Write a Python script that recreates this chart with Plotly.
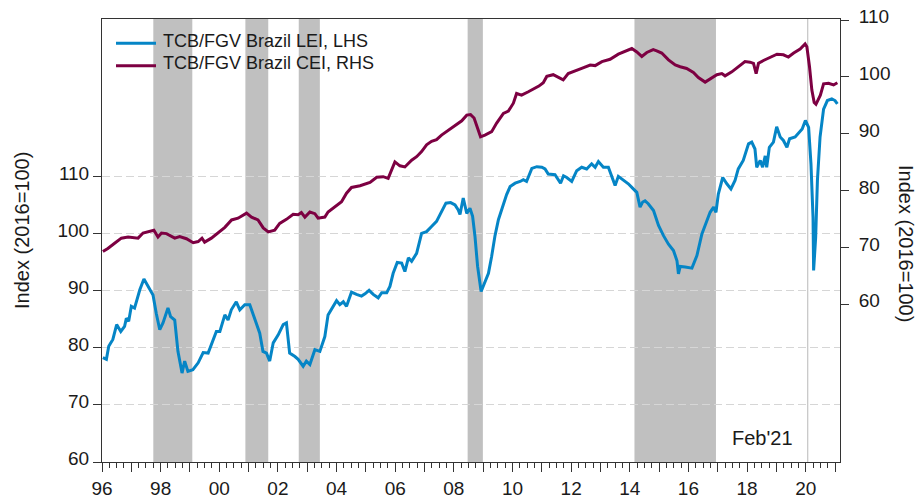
import plotly.graph_objects as go

# ---------------- data (decimal years) ----------------
lei_t = [1996.03, 1996.15, 1996.23, 1996.37, 1996.50, 1996.64, 1996.77, 1996.83, 1996.91, 1997.00,
         1997.11, 1997.29, 1997.43, 1997.63, 1997.74, 1997.85, 1997.97, 1998.08, 1998.25, 1998.34,
         1998.48, 1998.59, 1998.73, 1998.82, 1998.93, 1999.10, 1999.28, 1999.45, 1999.62, 1999.90,
         2000.02, 2000.19, 2000.30, 2000.41, 2000.58, 2000.70, 2000.87, 2001.04, 2001.21, 2001.38,
         2001.49, 2001.61, 2001.72, 2001.84, 2002.01, 2002.18, 2002.29, 2002.40, 2002.58, 2002.69,
         2002.86, 2002.97, 2003.09, 2003.26, 2003.43, 2003.60, 2003.71, 2003.89, 2004.00, 2004.11,
         2004.23, 2004.34, 2004.51, 2004.68, 2004.85, 2004.97, 2005.11, 2005.25, 2005.42, 2005.54,
         2005.71, 2005.82, 2005.93, 2006.07, 2006.22, 2006.33, 2006.45, 2006.56, 2006.73, 2006.90,
         2007.07, 2007.24, 2007.41, 2007.55, 2007.73, 2007.89, 2008.04, 2008.15, 2008.21, 2008.32,
         2008.44, 2008.55, 2008.64, 2008.72, 2008.81, 2008.93, 2009.06, 2009.18, 2009.29, 2009.40,
         2009.52, 2009.67, 2009.80, 2009.92, 2010.09, 2010.26, 2010.37, 2010.48, 2010.66, 2010.83,
         2011.00, 2011.11, 2011.22, 2011.45, 2011.64, 2011.74, 2011.85, 2012.02, 2012.19, 2012.36,
         2012.53, 2012.70, 2012.82, 2012.93, 2013.10, 2013.27, 2013.39, 2013.50, 2013.61, 2013.78,
         2013.95, 2014.12, 2014.24, 2014.35, 2014.44, 2014.52, 2014.63, 2014.81, 2014.98, 2015.15,
         2015.32, 2015.49, 2015.61, 2015.66, 2015.72, 2015.89, 2016.12, 2016.29, 2016.46, 2016.63,
         2016.74, 2016.86, 2016.94, 2017.02, 2017.17, 2017.31, 2017.45, 2017.59, 2017.70, 2017.87,
         2018.05, 2018.16, 2018.27, 2018.33, 2018.45, 2018.53, 2018.62, 2018.67, 2018.76, 2018.90,
         2019.01, 2019.13, 2019.24, 2019.36, 2019.45, 2019.64, 2019.76, 2019.88, 2019.99, 2020.10,
         2020.18, 2020.25, 2020.27, 2020.34, 2020.40, 2020.49, 2020.61, 2020.74, 2020.89, 2021.00,
         2021.08]
lei_v = [78.3, 78.0, 80.3, 81.5, 84.1, 82.9, 83.8, 85.2, 84.7, 87.3,
         87.0, 90.2, 92.1, 90.2, 89.3, 86.1, 83.2, 84.4, 87.0, 85.5,
         84.9, 79.4, 75.6, 77.7, 75.9, 76.2, 77.4, 79.2, 79.1, 82.9,
         82.9, 85.8, 84.9, 86.7, 88.1, 86.7, 87.6, 87.6, 85.2, 82.6,
         79.4, 79.1, 77.7, 80.9, 82.3, 84.1, 84.4, 79.1, 78.5, 78.0,
         76.8, 77.7, 77.1, 79.7, 79.4, 82.0, 85.8, 87.5, 88.3, 87.6,
         88.1, 87.3, 89.8, 89.4, 89.1, 89.5, 90.1, 89.4, 88.8, 89.7,
         89.7, 90.8, 93.1, 95.0, 94.9, 93.4, 95.8, 95.2, 96.6, 100.1,
         100.4, 101.3, 102.2, 103.6, 105.4, 105.5, 105.1, 104.2, 103.4, 106.3,
         103.6, 104.5, 103.1, 99.6, 94.3, 89.9, 91.4, 93.1, 96.1, 99.6,
         102.5, 105.1, 106.9, 108.3, 108.9, 109.2, 109.5, 109.2, 111.5, 111.8,
         111.7, 111.4, 110.5, 110.4, 108.9, 110.2, 109.9, 109.2, 111.1, 111.7,
         111.4, 112.3, 111.7, 112.7, 111.7, 111.7, 110.2, 108.5, 110.1, 109.4,
         108.8, 107.9, 107.3, 104.7, 105.6, 105.8, 105.3, 104.1, 101.5, 99.7,
         98.2, 97.1, 95.3, 93.0, 94.3, 94.2, 94.0, 96.2, 100.0, 102.3,
         103.8, 104.7, 103.8, 107.0, 109.9, 108.8, 107.9, 109.4, 111.4, 112.9,
         115.8, 116.1, 114.9, 111.7, 112.9, 111.7, 113.7, 111.7, 115.2, 116.1,
         118.8, 117.0, 116.4, 115.2, 116.7, 117.0, 117.8, 118.4, 119.9, 118.7,
         112.3, 102.9, 93.6, 99.4, 109.4, 117.0, 121.9, 123.4, 123.7, 123.4,
         122.8]

cei_t = [1996.03, 1996.20, 1996.43, 1996.66, 1996.89, 1997.23, 1997.40, 1997.68, 1997.77, 1997.91,
         1998.03, 1998.20, 1998.48, 1998.65, 1998.88, 1999.11, 1999.28, 1999.41, 1999.50, 1999.73,
         1999.96, 2000.19, 2000.42, 2000.64, 2000.93, 2001.10, 2001.32, 2001.50, 2001.67, 2001.89,
         2002.06, 2002.29, 2002.52, 2002.69, 2002.80, 2002.92, 2003.09, 2003.26, 2003.37, 2003.60,
         2003.71, 2003.89, 2004.17, 2004.34, 2004.51, 2004.80, 2005.14, 2005.37, 2005.59, 2005.76,
         2005.88, 2005.99, 2006.16, 2006.33, 2006.56, 2006.73, 2006.90, 2007.07, 2007.24, 2007.41,
         2007.58, 2007.75, 2007.92, 2008.10, 2008.27, 2008.44, 2008.57, 2008.69, 2008.80, 2008.91,
         2009.06, 2009.29, 2009.46, 2009.69, 2009.86, 2010.03, 2010.14, 2010.31, 2010.54, 2010.77,
         2010.90, 2011.05, 2011.17, 2011.39, 2011.56, 2011.73, 2011.90, 2012.08, 2012.36, 2012.65,
         2012.82, 2013.05, 2013.33, 2013.61, 2013.90, 2014.07, 2014.24, 2014.41, 2014.58, 2014.80,
         2014.92, 2015.09, 2015.32, 2015.55, 2015.72, 2015.94, 2016.17, 2016.34, 2016.57, 2016.74,
         2016.97, 2017.14, 2017.25, 2017.48, 2017.71, 2017.93, 2018.10, 2018.22, 2018.31, 2018.39,
         2018.56, 2018.79, 2019.02, 2019.24, 2019.41, 2019.59, 2019.81, 2019.98, 2020.04, 2020.13,
         2020.21, 2020.29, 2020.35, 2020.50, 2020.61, 2020.78, 2020.95, 2021.08]
cei_v = [69.35, 69.9, 70.8, 71.7, 71.9, 71.7, 72.6, 73.0, 73.1, 71.9,
         72.6, 72.5, 71.7, 72.0, 71.6, 70.9, 71.1, 71.7, 71.0, 71.7,
         72.7, 73.6, 74.9, 75.2, 76.1, 75.4, 74.9, 73.5, 72.8, 73.1,
         74.3, 75.0, 75.9, 75.8, 76.2, 75.4, 76.3, 76.0, 75.2, 75.4,
         76.3, 77.0, 78.1, 79.6, 80.6, 80.9, 81.5, 82.4, 82.5, 82.2,
         83.7, 85.1, 84.4, 84.2, 85.4, 86.0, 86.9, 88.1, 88.7, 89.0,
         89.8, 90.4, 91.1, 91.6, 92.3, 93.3, 93.4, 92.8, 91.3, 89.5,
         89.8, 90.4, 91.9, 93.6, 94.0, 95.4, 97.1, 96.8, 97.4, 98.0,
         98.4, 99.0, 100.1, 100.4, 99.9, 99.5, 100.6, 100.9, 101.5, 102.1,
         102.0, 102.7, 103.1, 104.0, 104.6, 105.0, 104.4, 103.6, 104.3, 104.8,
         104.6, 104.2, 103.0, 102.1, 101.8, 101.5, 100.8, 99.9, 99.1, 99.6,
         100.4, 100.6, 100.2, 100.9, 101.8, 102.7, 102.6, 102.4, 100.6, 102.4,
         102.9, 103.5, 104.0, 103.9, 103.5, 104.2, 104.9, 105.8, 105.3, 101.8,
         97.7, 95.5, 95.2, 96.8, 98.8, 98.9, 98.6, 99.0]

# recession periods (start, end) in decimal years
rec_start = [1997.75, 2000.89, 2002.71, 2008.47, 2014.16]
rec_end = [1999.08, 2001.67, 2003.43, 2008.99, 2016.94]

x_years = list(range(1996, 2022))
x_labels = ["96", "", "98", "", "00", "", "02", "", "04", "", "06", "", "08", "", "10", "",
            "12", "", "14", "", "16", "", "18", "", "20", ""]
left_ticks = [60, 70, 80, 90, 100, 110]
right_ticks = [60, 70, 80, 90, 100, 110]

name_lei = "TCB/FGV Brazil LEI, LHS"
name_cei = "TCB/FGV Brazil CEI, RHS"
covid_mark = 2020.07

# ---------------- styles ----------------
FONT = "Liberation Sans, Arial, sans-serif"
BLUE = "#0585C6"
MAROON = "#7D0042"
AX = "#333333"
TXT = "#1a1a1a"

fig = go.Figure()
fig.add_trace(go.Scatter(x=cei_t, y=cei_v, name=name_cei, mode="lines", yaxis="y2",
                         line=dict(color=MAROON, width=3), showlegend=False))
fig.add_trace(go.Scatter(x=lei_t, y=lei_v, name=name_lei, mode="lines", yaxis="y",
                         line=dict(color=BLUE, width=3), showlegend=False))

shapes = []
for s, e in zip(rec_start, rec_end):
    shapes.append(dict(type="rect", xref="x", yref="paper", x0=s, x1=e, y0=0, y1=1,
                       fillcolor="#C0C0C0", line=dict(width=0), layer="between"))
shapes.append(dict(type="line", xref="x", yref="paper", x0=covid_mark, x1=covid_mark, y0=0, y1=1,
                   line=dict(color="#B8B8B8", width=1), layer="between"))

# legend (manual, paper coords)
PL, PR, PT, PB = 102.0, 840.0, 19.0, 462.0
def px(xp):
    return (xp - PL) / (PR - PL)
def py(yp):
    return (PB - yp) / (PB - PT)

shapes.append(dict(type="line", xref="paper", yref="paper", x0=px(116), x1=px(156), y0=py(43.3), y1=py(43.3),
                   line=dict(color=BLUE, width=3), layer="above"))
shapes.append(dict(type="line", xref="paper", yref="paper", x0=px(116), x1=px(156), y0=py(65.7), y1=py(65.7),
                   line=dict(color=MAROON, width=3), layer="above"))

annotations = [
    dict(xref="paper", yref="paper", x=px(161), y=py(41.0), text=name_lei, showarrow=False,
         xanchor="left", yanchor="middle", font=dict(family=FONT, size=18, color=TXT)),
    dict(xref="paper", yref="paper", x=px(161), y=py(63.0), text=name_cei, showarrow=False,
         xanchor="left", yanchor="middle", font=dict(family=FONT, size=18, color=TXT)),
    dict(xref="paper", yref="paper", x=px(762), y=py(438), text="Feb'21", showarrow=False,
         xanchor="center", yanchor="middle", font=dict(family=FONT, size=20, color=TXT)),
    dict(xref="paper", yref="paper", x=px(22), y=py(231), text="Index (2016=100)", showarrow=False,
         textangle=-90, xanchor="center", yanchor="middle", font=dict(family=FONT, size=20, color=TXT)),
    dict(xref="paper", yref="paper", x=px(906), y=py(243), text="Index (2016=100)", showarrow=False,
         textangle=90, xanchor="center", yanchor="middle", font=dict(family=FONT, size=20, color=TXT)),
]

fig.update_layout(
    width=917, height=498,
    margin=dict(l=102, r=77, t=19, b=36, autoexpand=False),
    paper_bgcolor="white", plot_bgcolor="white",
    font=dict(family=FONT, size=19, color=TXT),
    shapes=shapes, annotations=annotations,
    showlegend=False,
    xaxis=dict(range=[1996, 2021.17], tickmode="array", tickvals=x_years, ticktext=x_labels,
               ticks="outside", ticklen=9, tickwidth=1, tickcolor=AX, automargin=False,
               showline=True, linecolor=AX, linewidth=1, mirror=True,
               showgrid=False, zeroline=False, tickfont=dict(size=19, color=TXT),
               minor=dict(tickmode="linear", tick0=1996, dtick=0.25, ticks="outside",
                          ticklen=5, tickcolor=AX, showgrid=False)),
    yaxis=dict(range=[60, 137.7], tickmode="array", tickvals=left_ticks, automargin=False,
               ticks="outside", ticklen=8, tickcolor=AX, ticklabelshift=-4,
               showline=True, linecolor=AX, linewidth=1,
               showgrid=True, gridcolor="#D6D6D6", griddash="8px,4px", gridwidth=1,
               zeroline=False, tickfont=dict(size=19, color=TXT)),
    yaxis2=dict(range=[32.4, 110.18], overlaying="y", side="right", tickmode="array",
                tickvals=right_ticks, ticks="outside", ticklen=8, tickcolor=AX, automargin=False,
                ticklabelshift=-4, ticklabelstandoff=6,
                showline=True, linecolor=AX, linewidth=1,
                showgrid=False, zeroline=False, tickfont=dict(size=19, color=TXT)),
)

fig.write_html("out.html", config={"displayModeBar": False},
               post_script="document.body.style.margin='0px';document.body.style.overflow='hidden';")
